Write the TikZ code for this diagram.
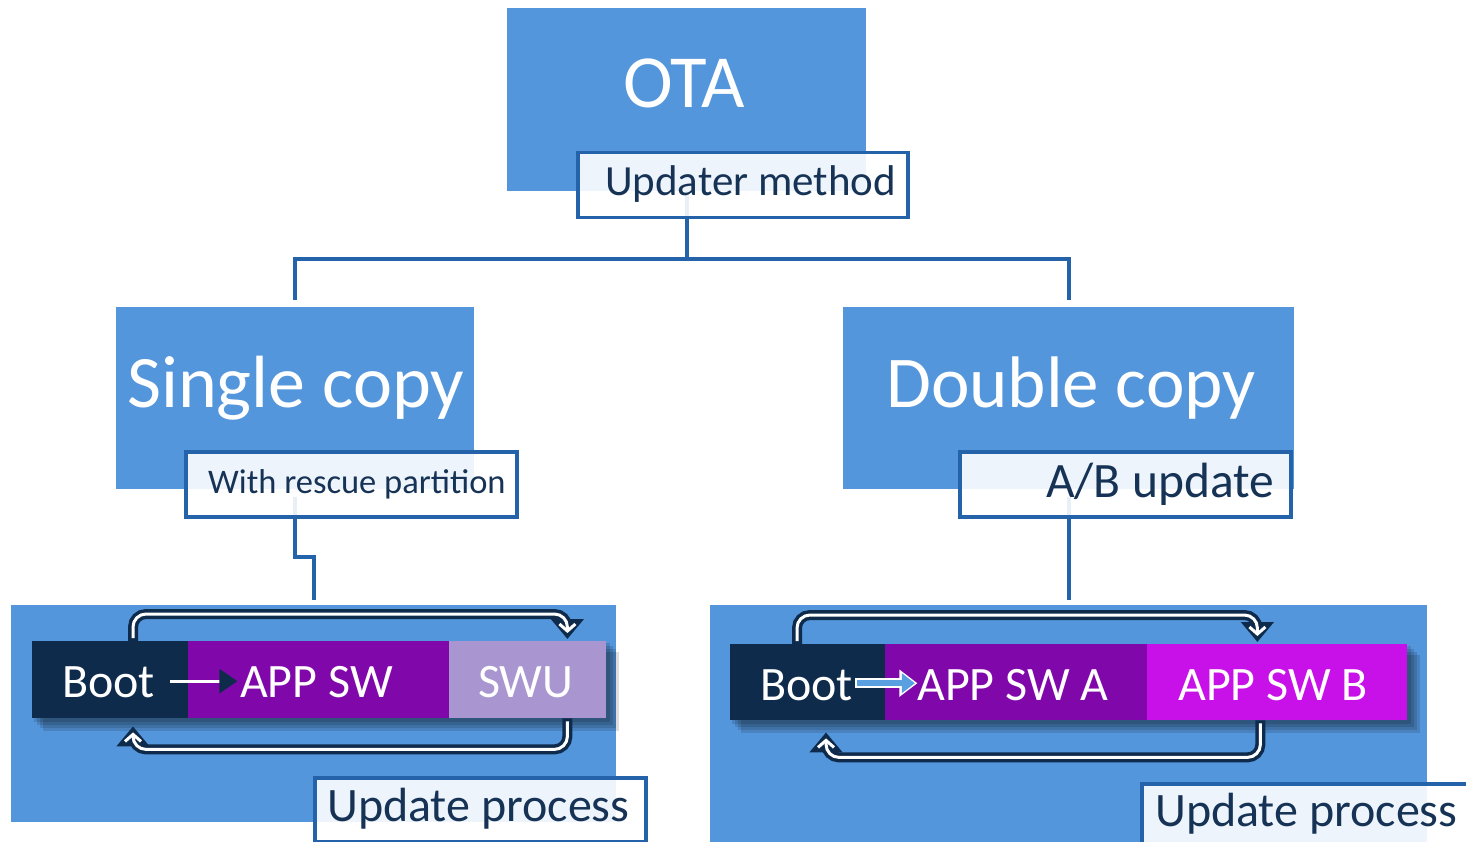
\documentclass[tikz,border=0pt]{standalone}
\usepackage{fontspec}
\setmainfont{Carlito}
\usetikzlibrary{arrows.meta}
\definecolor{boxblue}{RGB}{84,150,220}
\definecolor{lineblue}{RGB}{36,99,169}
\definecolor{txtdark}{RGB}{22,51,86}
\definecolor{navy}{RGB}{15,43,76}
\definecolor{purp}{RGB}{128,8,170}
\definecolor{lav}{RGB}{169,150,208}
\definecolor{mag}{RGB}{200,16,232}
\definecolor{arrblue}{RGB}{90,160,225}
\tikzset{
  bluebox/.style={fill=boxblue, draw=none, inner sep=0pt, anchor=north west},
  tag/.style={draw=lineblue, line width=3.5pt, fill=white, fill opacity=0.9, draw opacity=1, text opacity=1, inner sep=0pt, anchor=north west},
  conn/.style={draw=lineblue, line width=4pt},
  block/.style={inner sep=0pt, anchor=north west, draw=none},
  bigtxt/.style={text=white, font=\fontsize{74}{80}\selectfont, anchor=base west, inner sep=0pt},
  tagtxt/.style={text=txtdark, anchor=base west, inner sep=0pt},
  blocktxt/.style={text=white, font=\fontsize{48}{52}\selectfont, anchor=base west, inner sep=0pt},
  loopout/.style={draw=navy, line width=10pt, rounded corners=13pt, -{Triangle[length=20pt,width=32pt]}},
  loopin/.style={draw=white, line width=3pt, rounded corners=13pt, shorten >=6pt, shorten <=3pt, -{Straight Barb[length=7pt,width=16pt,line width=3pt]}},
  shade/.style={fill=black, opacity=0.13}
}
\newcommand\looparr[1]{\draw[loopout] #1; \draw[loopin] #1;}
\begin{document}
\begin{tikzpicture}[x=1pt,y=-1pt]
\useasboundingbox (0,0) rectangle (1466,842);
% main blue boxes
\node[bluebox, minimum width=359pt, minimum height=183pt] (ota) at (507,8) {};
\node[bluebox, minimum width=358pt, minimum height=182pt] (single) at (116,307) {};
\node[bluebox, minimum width=451pt, minimum height=182pt] (double) at (843,307) {};
\node[bluebox, minimum width=605pt, minimum height=217pt] (leftbox) at (11,605) {};
\node[bluebox, minimum width=717pt, minimum height=250pt] (rightbox) at (710,605) {};
% connectors
\draw[conn, shorten >=7pt] (ota.south) -- ++(0,68) coordinate (junc) -| (single.north);
\draw[conn, shorten >=7pt] (junc) -| (double.north);
\draw[conn, shorten >=5pt] ([yshift=-8pt]single.south) -- ++(0,60) -| (leftbox.north);
\draw[conn, shorten >=5pt] ([yshift=-8pt]double.south) -- (rightbox.north);
% block shadows
\foreach \d in {3,6,9,12}{
  \fill[shade] ([shift={(\d,\d)}]31,640) rectangle ([shift={(\d,\d)}]607,719);
  \fill[shade] ([shift={(\d,\d)}]729,643) rectangle ([shift={(\d,\d)}]1408,721);
}
% blocks left
\node[block, fill=navy, minimum width=156pt, minimum height=77pt] (boot1) at (32,641) {};
\node[block, fill=purp, minimum width=261pt, minimum height=77pt] (app1) at (188,641) {};
\node[block, fill=lav, minimum width=157pt, minimum height=77pt] (swu) at (449,641) {};
% blocks right
\node[block, fill=navy, minimum width=155pt, minimum height=76pt] (boot2) at (730,644) {};
\node[block, fill=purp, minimum width=262pt, minimum height=76pt] (appa) at (885,644) {};
\node[block, fill=mag, minimum width=260pt, minimum height=76pt] (appb) at (1147,644) {};
% loop arrows
\looparr{([xshift=101pt]boot1.north west) -- ++(0,-27) -| ([xshift=-39pt,yshift=2pt]swu.north east)}
\looparr{([xshift=-39pt]swu.south east) -- ++(0,31) -| ([xshift=101pt,yshift=-8pt]boot1.south west)}
\looparr{([xshift=67pt]boot2.north west) -- ++(0,-29) -| ([xshift=-150pt,yshift=2pt]appb.north east)}
\looparr{([xshift=-147pt]appb.south east) -- ++(0,37) -| ([xshift=96pt,yshift=-12pt]boot2.south west)}
% small arrows
\draw[white, line width=3pt, -{Triangle[length=18pt,width=24pt,color=navy]}] ([xshift=-18pt,yshift=-1.5pt]boot1.east) -- ([xshift=49pt,yshift=-1.5pt]boot1.east);
\draw[white, line width=10pt, -{Triangle[length=18pt,width=26pt]}] ([xshift=-30pt,yshift=-1pt]boot2.east) -- ([xshift=32pt,yshift=-1pt]boot2.east);
\draw[arrblue, line width=6pt, shorten >=2.5pt, shorten <=2pt, -{Triangle[length=13pt,width=19pt]}] ([xshift=-30pt,yshift=-1pt]boot2.east) -- ([xshift=32pt,yshift=-1pt]boot2.east);
% tags
\node[tag, minimum width=330pt, minimum height=65pt] (upd) at (576,151) {};
\node[tag, minimum width=331pt, minimum height=65pt] (resc) at (184,450) {};
\node[tag, minimum width=331pt, minimum height=65pt] (ab) at (958,450) {};
\node[tag, minimum width=331pt, minimum height=64pt] (upl) at (313,776) {};
\node[tag, minimum width=340pt, minimum height=75pt] (upr) at (1140,782) {};
% texts
\node[bigtxt, font=\fontsize{75}{80}\selectfont] (tota) at (623,108) {OTA};
\node[bigtxt] (tsingle) at (127,407) {Single copy};
\node[bigtxt, font=\fontsize{73}{80}\selectfont] (tdouble) at (886,407) {Double copy};
\node[tagtxt, font=\fontsize{43}{48}\selectfont] (tupd) at (605,196) {Updater method};
\node[tagtxt, font=\fontsize{34.5}{40}\selectfont] (tresc) at (208,493) {With rescue partition};
\node[tagtxt, font=\fontsize{49.5}{54}\selectfont] (tab) at (1046,497) {A/B update};
\node[tagtxt, font=\fontsize{48}{52}\selectfont] (tupl) at (327,821) {Update process};
\node[tagtxt, font=\fontsize{48}{52}\selectfont] (tupr) at (1155,826) {Update process};
\node[blocktxt] (tboot1) at (62,697) {Boot};
\node[blocktxt] (tapp1) at (240,697) {APP SW};
\node[blocktxt] (tswu) at (478,697) {SWU};
\node[blocktxt] (tboot2) at (760,700) {Boot};
\node[blocktxt] (tappa) at (917,700) {APP SW A};
\node[blocktxt] (tappb) at (1178,700) {APP SW B};
\end{tikzpicture}
\end{document}
